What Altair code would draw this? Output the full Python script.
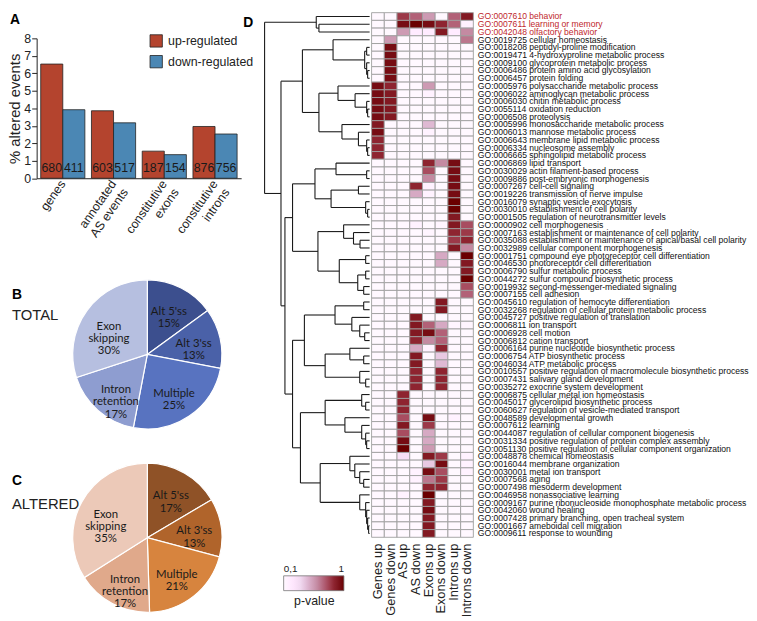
import altair as alt
import pandas as pd

FONT = "Liberation Sans"

# ---------------- Panel A data ----------------
cats = ["genes", "annotated\nAS events", "constitutive\nexons", "constitutive\nintrons"]
up_pct = [6.53, 3.86, 1.55, 2.96]
down_pct = [3.92, 3.17, 1.35, 2.53]
up_n = [680, 603, 187, 876]
down_n = [411, 517, 154, 756]
reg_names = ["up-regulated", "down-regulated"]
reg_colors = ["#b4442e", "#4b87b4"]

# ---------------- Panels B / C data ----------------
slices = ["Alt 5'ss", "Alt 3'ss", "Multiple", "Intron\nretention", "Exon\nskipping"]
total_pct = [15, 13, 25, 17, 30]
altered_pct = [17, 13, 21, 17, 35]
total_colors = ["#3c4f8e", "#4a61a8", "#5873c0", "#8e9dd0", "#b6bfe0"]
altered_colors = ["#8f5227", "#b0642b", "#d7843e", "#e0a98b", "#ecc9b8"]

# ---------------- Panel D data ----------------
terms = [
    "GO:0007610 behavior", "GO:0007611 learning or memory", "GO:0042048 olfactory behavior",
    "GO:0019725 cellular homeostasis", "GO:0018208 peptidyl-proline modification",
    "GO:0019471 4-hydroxyproline metabolic process", "GO:0009100 glycoprotein metabolic process",
    "GO:0006486 protein amino acid glycosylation", "GO:0006457 protein folding",
    "GO:0005976 polysaccharide metabolic process", "GO:0006022 aminoglycan metabolic process",
    "GO:0006030 chitin metabolic process", "GO:0055114 oxidation reduction", "GO:0006508 proteolysis",
    "GO:0005996 monosaccharide metabolic process", "GO:0006013 mannose metabolic process",
    "GO:0006643 membrane lipid metabolic process", "GO:0006334 nucleosome assembly",
    "GO:0006665 sphingolipid metabolic process", "GO:0006869 lipid transport",
    "GO:0030029 actin filament-based process", "GO:0009886 post-embryonic morphogenesis",
    "GO:0007267 cell-cell signaling", "GO:0019226 transmission of nerve impulse",
    "GO:0016079 synaptic vesicle exocytosis", "GO:0030010 establishment of cell polarity",
    "GO:0001505 regulation of neurotransmitter levels", "GO:0000902 cell morphogenesis",
    "GO:0007163 establishment or maintenance of cell polarity",
    "GO:0035088 establishment or maintenance of apical/basal cell polarity",
    "GO:0032989 cellular component morphogenesis",
    "GO:0001751 compound eye photoreceptor cell differentiation",
    "GO:0046530 photoreceptor cell differentiation", "GO:0006790 sulfur metabolic process",
    "GO:0044272 sulfur compound biosynthetic process", "GO:0019932 second-messenger-mediated signaling",
    "GO:0007155 cell adhesion", "GO:0045610 regulation of hemocyte differentiation",
    "GO:0032268 regulation of cellular protein metabolic process",
    "GO:0045727 positive regulation of translation", "GO:0006811 ion transport",
    "GO:0006928 cell motion", "GO:0006812 cation transport",
    "GO:0006164 purine nucleotide biosynthetic process", "GO:0006754 ATP biosynthetic process",
    "GO:0046034 ATP metabolic process",
    "GO:0010557 positive regulation of macromolecule biosynthetic process",
    "GO:0007431 salivary gland development", "GO:0035272 exocrine system development",
    "GO:0006875 cellular metal ion homeostasis", "GO:0045017 glycerolipid biosynthetic process",
    "GO:0060627 regulation of vesicle-mediated transport", "GO:0048589 developmental growth",
    "GO:0007612 learning", "GO:0044087 regulation of cellular component biogenesis",
    "GO:0031334 positive regulation of protein complex assembly",
    "GO:0051130 positive regulation of cellular component organization",
    "GO:0048878 chemical homeostasis", "GO:0016044 membrane organization",
    "GO:0030001 metal ion transport", "GO:0007568 aging", "GO:0007498 mesoderm development",
    "GO:0046958 nonassociative learning",
    "GO:0009167 purine ribonucleoside monophosphate metabolic process",
    "GO:0042060 wound healing", "GO:0007428 primary branching, open tracheal system",
    "GO:0001667 ameboidal cell migration", "GO:0009611 response to wounding",
]
red_terms = terms[:3]
columns = ["Genes up", "Genes down", "AS up", "AS down", "Exons up", "Exons down",
           "Introns up", "Introns down"]

# p-value scores per column (0 = not enriched), one entry per GO term (rows 1..68)
genes_up = [0, 0, 0, 0, 0, 0, 0, 0, 0, .95, .95, .95, .95, .95, .9, .95, .85, .85, .85,
            0, 0, 0, 0, 0, 0, 0, 0, 0, 0, 0, 0, 0, 0, 0, 0, 0, 0, 0, 0, 0, 0, 0, 0, 0, 0,
            0, 0, 0, 0, 0, 0, 0, 0, 0, 0, 0, 0, 0, 0, 0, 0, 0, 0, 0, 0, 0, 0, 0]
genes_down = [0, 0, 0, .55, .95, .95, .95, .95, .95, .85, .9, .9, .9, .9, 0, 0, 0, 0, 0,
              0, 0, 0, 0, 0, 0, 0, 0, 0, 0, 0, 0, 0, 0, 0, 0, 0, 0, 0, 0, 0, 0, 0, 0, 0, 0,
              0, 0, 0, 0, 0, 0, 0, 0, 0, 0, 0, 0, 0, 0, 0, 0, 0, 0, 0, 0, 0, 0, 0]
as_up = [.8, .95, .55, 0, 0, 0, 0, 0, 0, 0, 0, 0, 0, 0, 0, 0, 0, 0, 0,
         0, 0, 0, 0, 0, 0, 0, 0, 0, 0, 0, 0, 0, 0, 0, 0, 0, 0, 0, 0, 0, 0, 0, 0, 0, 0,
         0, 0, 0, 0, .85, .85, .85, .75, .9, .75, .95, 1, .3, 0, 0, 0, 0, .15, 0, 0, 0, 0, 0]
as_down = [.7, 1, .2, 0, 0, 0, 0, 0, 0, 0, 0, 0, 0, 0, 0, 0, 0, 0, 0,
           0, 0, 0, .85, .5, 0, 0, 0, .15, 0, 0, 0, 0, 0, 0, 0, 0, 0, 0, 0, .9, .9, .9, .85, .5, .9,
           .9, .85, .85, .85, 0, 0, 0, 0, 0, 0, 0, 0, 0, 0, .15, .15, 0, 0, 0, 0, 0, 0, 0]
exons_up = [.55, .95, .2, 0, 0, 0, 0, 0, 0, .55, .15, 0, 0, 0, .45, .15, 0, 0, 0,
            .85, .75, .6, .15, .15, 0, 0, 0, 0, .12, 0, 0, 0, 0, 0, 0, 0, 0, .1, 0, 0, .7, .95, .6, .15, 0,
            0, 0, 0, 0, 0, .1, 0, .95, .8, .5, .5, .55, .9, .4, .95, .65, .85, 1, .9, .95, .9, .9, .9]
exons_down = [0, .85, .9, 0, 0, 0, 0, 0, 0, 0, 0, 0, 0, 0, 0, 0, 0, 0, 0,
              .6, 0, 0, 0, 0, 0, 0, 0, .12, 0, 0, 0, .5, .5, 0, 0, 0, 0, .9, .9, 0, .5, .7, .7, .85, .4,
              .45, .85, .85, .85, 0, 0, 0, 0, 0, 0, 0, 0, .8, .95, .75, .8, .85, 0, 0, 0, 0, 0, 0]
introns_up = [.7, .7, .2, 0, 0, 0, 0, 0, 0, 0, 0, 0, 0, 0, 0, 0, 0, 0, 0,
              .95, .95, .95, .95, .95, 1, 1, .9, .9, .85, .8, .9, 0, 0, 0, 0, 0, 0, 0, 0, 0, .12, 0, 0, 0, 0,
              0, 0, 0, 0, 0, 0, 0, .15, 0, 0, 0, 0, 0, 0, 0, 0, 0, 0, 0, 0, 0, 0, 0]
introns_down = [.9, .15, .6, .65, 0, 0, 0, 0, 0, 0, 0, 0, 0, 0, 0, 0, 0, 0, 0,
                0, 0, 0, 0, 0, 0, 0, 0, .75, .8, .85, .6, 1, .9, .9, 1, .75, .7, 0, 0, 0, .12, 0, .1, 0, 0,
                0, 0, 0, 0, 0, 0, 0, 0, 0, 0, 0, 0, .15, .15, .15, 0, 0, 0, 0, 0, 0, 0, 0]
col_values = [genes_up, genes_down, as_up, as_down, exons_up, exons_down, introns_up, introns_down]

# dendrogram: [merge height, left, right]; leaves are row numbers (1-based)
tree = [106.3,
        [54, 1, [51.3, 2, 3]],
        [89.7,
         [68,
          [37, 4, [5, [3, 5, 6], [3, 7, [2, 8, 9]]]],
          [51.3,
           [32, 10, [14.7, 11, [3, 12, [2, 13, 14]]]],
           [28, 15, [11.3, 16, [3, 17, [2, 18, 19]]]]]],
         [85.7,
          [78,
           [55.3, [34, 20, [3, 21, 22]], [39, [11.3, 23, 24], [4, 25, [2, 26, 27]]]],
           [52.3, [26.3, 28, [16.3, 29, [9.7, 30, 31]]],
                  [30.7, [4, 32, 33], [12, [4, 34, 35], [6, 36, 37]]]]],
          [78,
           [66, [35, [6, 38, 39], [18, 40, [10, 41, [5, 42, 43]]]],
                [45, [20, 44, [6, 45, 46]], [10, 47, [4, 48, 49]]]],
           [70, [45, [8, 50, [4, 51, 52]], [25, 53, [8, 54, [4, 55, [3, 56, 57]]]]],
                [50, [20, 58, [15, 59, [10, 60, [6, 61, 62]]]],
                     [10, 63, [4, 64, [3, 65, [2, 66, [1, 67, 68]]]]]]]]]]]

p_domain = [0.1, 0.35, 0.6, 0.85, 1.0]
p_range = ["#ffffff", "#f1d9f0", "#c48aa2", "#8e2430", "#6a0000"]

# ---------------- Panel A ----------------
rows_a = []
for i, c in enumerate(cats):
    rows_a.append({"cat": c, "reg": reg_names[0], "pct": up_pct[i], "n": str(up_n[i])})
    rows_a.append({"cat": c, "reg": reg_names[1], "pct": down_pct[i], "n": str(down_n[i])})
dfa = pd.DataFrame(rows_a)

xa = alt.X("cat:N", sort=cats,
           scale=alt.Scale(paddingInner=0.13, paddingOuter=0.08),
           axis=alt.Axis(title=None, labelAngle=-55, labelExpr="split(datum.label, '\\n')",
                         ticks=False, domainColor="#222", labelFontSize=12.5, labelFont=FONT,
                         labelColor="#222", labelPadding=3))
ya_axis = alt.Axis(title="% altered events", values=list(range(9)), grid=False,
                   labelOverlap=False, tickSize=5, tickColor="#222",
                   domainColor="#222", labelPadding=1,
                   labelFontSize=12.5, labelFont=FONT, labelColor="#222",
                   titleFontSize=15, titleFont=FONT, titleFontWeight="normal",
                   titleColor="#222", titlePadding=1)
ya_scale = alt.Scale(domain=[0, 8])
xoff = alt.XOffset("reg:N", sort=reg_names)
bars = alt.Chart(dfa).mark_bar(stroke="#222", strokeWidth=0.8).encode(
    x=xa, xOffset=xoff,
    y=alt.Y("pct:Q", scale=ya_scale, axis=ya_axis),
    color=alt.Color("reg:N", sort=reg_names,
                    scale=alt.Scale(domain=reg_names, range=reg_colors),
                    legend=alt.Legend(title=None, orient="none", legendX=114, legendY=-4.4,
                                      symbolType="square", symbolSize=156,
                                      symbolStrokeColor="#222", symbolStrokeWidth=0.8,
                                      labelFontSize=12.5, labelFont=FONT, labelColor="#222",
                                      rowPadding=5, padding=0, labelOffset=5)),
)
nums = alt.Chart(dfa).transform_calculate(base="0").mark_text(
    baseline="bottom", dy=-3, fontSize=12.5, font=FONT, color="#1a1a1a").encode(
    x=alt.X("cat:N", sort=cats), xOffset=xoff,
    y=alt.Y("base:Q", scale=ya_scale, axis=ya_axis), text="n:N")
panel_a = alt.layer(bars, nums).properties(
    width=207, height=141.6,
    title=alt.TitleParams("A", anchor="start", frame="group", dx=-27, offset=6,
                          fontSize=14, fontWeight="bold", font=FONT, color="black"))


# ---------------- Panels B / C ----------------
def pie(vals, colors, letter, name, offset, subpad):
    df = pd.DataFrame({"slice": slices, "pct": vals, "order": list(range(len(slices))),
                       "label": [s + "\n" + str(v) + "%" for s, v in zip(slices, vals)]})
    base = alt.Chart(df).encode(theta=alt.Theta("pct:Q", stack=True),
                                order=alt.Order("order:Q"))
    arcs = base.mark_arc(outerRadius=75.5, stroke="white", strokeWidth=1.2).encode(
        color=alt.Color("slice:N", sort=slices,
                        scale=alt.Scale(domain=slices, range=colors), legend=None))
    txt = base.mark_text(radius=48, font="Lato", fontSize=11.5, lineBreak="\n",
                         lineHeight=12.5, color="#1a1a1a").encode(text="label:N")
    return alt.layer(arcs, txt).properties(
        width=224, height=14.8,
        title=alt.TitleParams(letter, subtitle=name, anchor="start", frame="group", dx=-25,
                              offset=offset, fontSize=14, fontWeight="bold", font=FONT,
                              color="black", subtitleFont=FONT, subtitleFontSize=15,
                              subtitleColor="#222", subtitlePadding=subpad))


panel_b = pie(total_pct, total_colors, "B", "TOTAL", -46, 6)
panel_c = pie(altered_pct, altered_colors, "C", "ALTERED", -52, 9)

left = alt.vconcat(panel_a, panel_b, panel_c, spacing=170.5,
                   bounds="flush").resolve_scale(color="independent")

# ---------------- Panel D ----------------
segs = []


def walk(node):
    if isinstance(node, int):
        return node - 0.5, 0.0
    h, l, r = node
    yl, hl = walk(l)
    yr, hr = walk(r)
    segs.append({"x1": h, "x2": h, "y1": yl, "y2": yr})
    segs.append({"x1": hl, "x2": h, "y1": yl, "y2": yl})
    segs.append({"x1": hr, "x2": h, "y1": yr, "y2": yr})
    return (yl + yr) / 2, h


walk(tree)
dseg = pd.DataFrame(segs)

TOPSHIFT = 26
HD = 505
dendro = alt.Chart(dseg).mark_rule(color="#1a1a1a", strokeWidth=1.1).encode(
    x=alt.X("x1:Q", scale=alt.Scale(domain=[0, 108], range=[115, 7]), axis=None),
    x2="x2:Q",
    y=alt.Y("y1:Q", scale=alt.Scale(domain=[0, len(terms)], range=[-TOPSHIFT, HD]), axis=None),
    y2="y2:Q")

heat_rows = []
for ci, c in enumerate(columns):
    for ri, t in enumerate(terms):
        heat_rows.append({"col": c, "term": t, "p": col_values[ci][ri]})
dh = pd.DataFrame(heat_rows)

red_test = " || ".join("datum.value == '%s'" % t for t in red_terms)
heat = alt.Chart(dh).mark_rect(stroke="#9e9e9e", strokeWidth=0.9).encode(
    x=alt.X("col:N", sort=columns,
            scale=alt.Scale(range=[117, 220], paddingInner=0, paddingOuter=0),
            axis=alt.Axis(title=None, orient="bottom", labelAngle=-90, ticks=False,
                          domain=False, labelFontSize=13, labelFont=FONT,
                          labelColor="#222", labelPadding=6)),
    y=alt.Y("term:N", sort=terms,
            scale=alt.Scale(range=[-TOPSHIFT, HD], paddingInner=0, paddingOuter=0),
            axis=alt.Axis(title=None, orient="right", ticks=False, domain=False,
                          labelFontSize=8.7, labelFont=FONT, labelPadding=4, labelLimit=0,
                          labelColor={"condition": {"test": red_test, "value": "#c0282d"},
                                      "value": "#111111"})),
    color=alt.Color("p:Q", scale=alt.Scale(domain=p_domain, range=p_range, clamp=True),
                    legend=alt.Legend(title="p-value", orient="none", legendX=28,
                                      legendY=544, direction="horizontal",
                                      gradientLength=61, gradientThickness=15,
                                      titleOrient="bottom", titleAnchor="middle",
                                      values=[0.1, 1],
                                      labelExpr="datum.value == 1 ? '1' : '0,1'",
                                      labelFontSize=10, labelFont=FONT, labelColor="#222",
                                      titleFontSize=12.5, titleFont=FONT,
                                      titleFontWeight="normal", titleColor="#222",
                                      gradientStrokeColor="#777", gradientStrokeWidth=0.8,
                                      labelOffset={"expr": "-27"}, padding=0)),
)

panel_d = alt.layer(dendro, heat).resolve_scale(
    x="independent", y="independent", color="independent").properties(
    width=220, height=HD,
    title=alt.TitleParams("D", anchor="start", frame="group", dx=-13, offset=-18,
                          fontSize=14, fontWeight="bold", font=FONT, color="black"))

chart = alt.hconcat(left, panel_d, spacing=222, bounds="flush").resolve_scale(
    color="independent").properties(padding=0).configure_view(stroke=None)

chart.save("out.html", embed_options={"renderer": "svg", "actions": False})
